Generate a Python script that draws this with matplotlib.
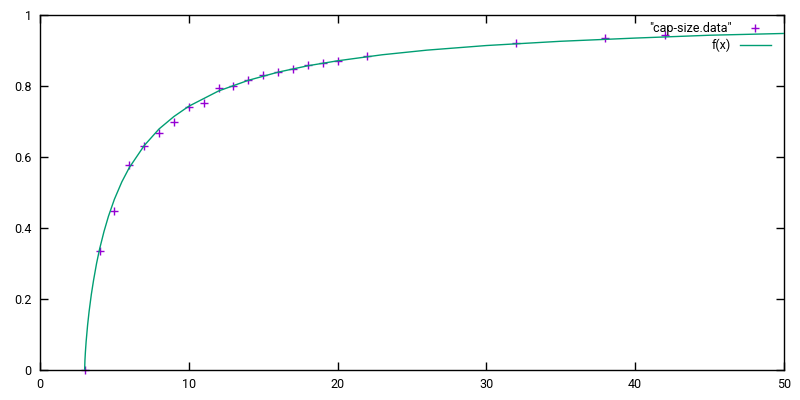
import matplotlib
matplotlib.use('Agg')
import matplotlib.pyplot as plt

plt.rcParams['font.family'] = ['Roboto', 'DejaVu Sans']
plt.rcParams['font.size'] = 9

# measured points ("cap-size.data")
size = [3, 4, 5, 6, 7, 8, 9, 10, 11, 12, 13, 14, 15, 16, 17, 18, 19, 20, 22, 32, 38, 42]
cap = [0.0, 0.336, 0.448, 0.577, 0.631, 0.667, 0.698, 0.740, 0.751, 0.793, 0.799, 0.818,
       0.831, 0.839, 0.847, 0.858, 0.865, 0.870, 0.885, 0.922, 0.934, 0.943]

# fitted curve f(x)
fx = [3, 3.02, 3.05, 3.1, 3.2, 3.3, 3.45, 3.6, 3.8, 4, 4.3, 4.6, 5, 5.5, 6, 7, 8, 9, 10,
      12, 14, 16, 18, 20, 23, 26, 30, 35, 40, 45, 50]
fy = [0.0, 0.027, 0.050, 0.080, 0.127, 0.165, 0.213, 0.253, 0.300, 0.340, 0.390, 0.433,
      0.481, 0.530, 0.570, 0.632, 0.679, 0.714, 0.743, 0.786, 0.816, 0.839, 0.857, 0.871,
      0.888, 0.901, 0.914, 0.926, 0.935, 0.943, 0.948]

purple = '#9400D3'
green = '#009E73'

fig = plt.figure(figsize=(8, 4), dpi=100)
ax = fig.add_axes([40 / 800, 30 / 400, 744 / 800, 355 / 400])

ax.plot(size, cap, linestyle='none', marker='+', markersize=5.5, markeredgewidth=1,
        color=purple, clip_on=False, zorder=2)
ax.plot(fx, fy, color=green, linewidth=1, zorder=4)

ax.set_xlim(0, 50)
ax.set_ylim(0, 1)
ax.set_xticks([0, 10, 20, 30, 40, 50])
ax.set_yticks([0, 0.2, 0.4, 0.6, 0.8, 1])
ax.set_yticklabels(['0', '0.2', '0.4', '0.6', '0.8', '1'])
ax.tick_params(direction='in', length=6, width=1, top=True, right=True, pad=6)
for s in ax.spines.values():
    s.set_linewidth(1)

# key, gnuplot style (text right aligned, sample on the right)
ax.text(0.929, 0.962, '"cap-size.data"', transform=ax.transAxes, ha='right', va='center')
ax.plot([0.961], [0.962], marker='+', markersize=5.5, markeredgewidth=1, color=purple,
        transform=ax.transAxes, clip_on=False)
ax.text(0.929, 0.9155, 'f(x)', transform=ax.transAxes, ha='right', va='center')
ax.plot([0.941, 0.9825], [0.9155, 0.9155], color=green, linewidth=1,
        transform=ax.transAxes, clip_on=False)

fig.savefig('out.png', dpi=100)
